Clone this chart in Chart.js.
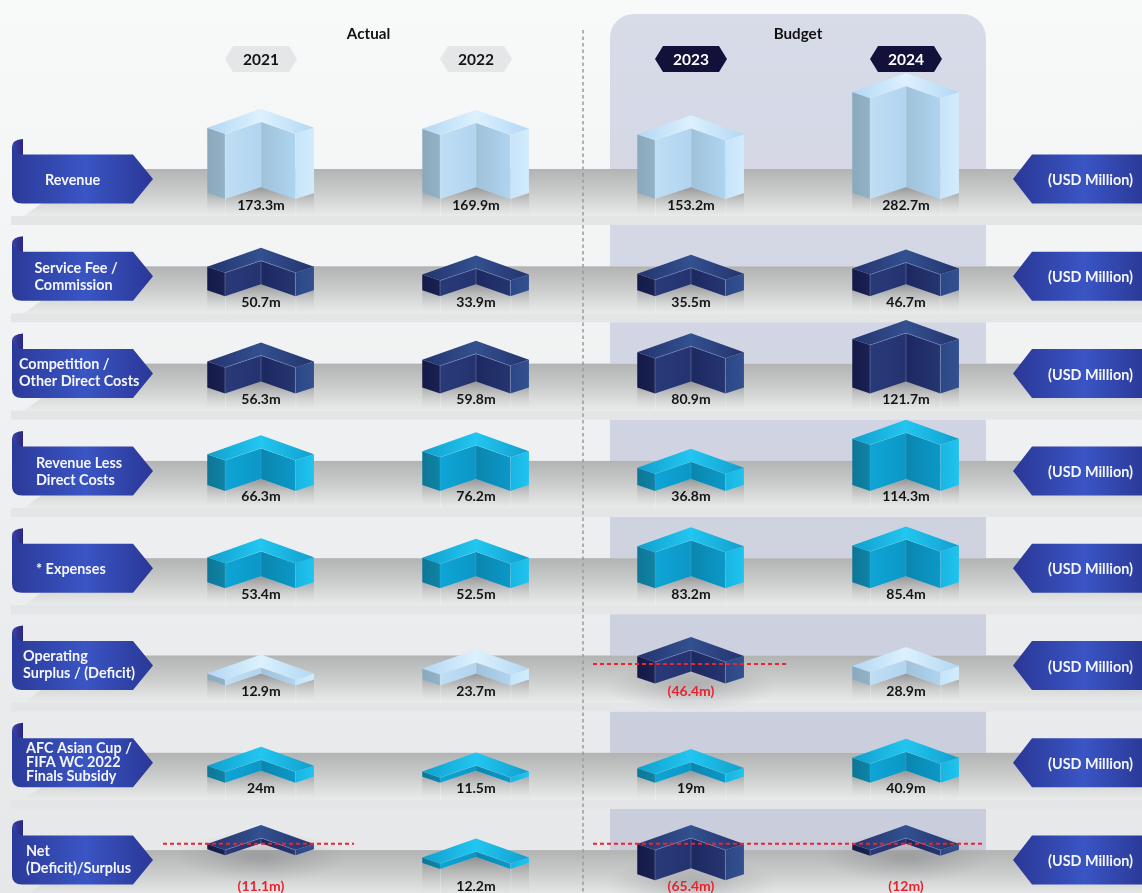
<!DOCTYPE html>
<html><head><meta charset="utf-8">
<script src="https://cdn.jsdelivr.net/npm/chart.js@4"></script>
<style>html,body{margin:0;padding:0;background:#f6f7f7;overflow:hidden}canvas{display:block}</style>
</head><body><canvas id="c" width="1142" height="893"></canvas>
<script>
const years = ['2021','2022','2023','2024'];
const periods = ['Actual','Budget'];
const revenue = [173.3,169.9,153.2,282.7];
const serviceFee = [50.7,33.9,35.5,46.7];
const directCosts = [56.3,59.8,80.9,121.7];
const revenueLessCosts = [66.3,76.2,36.8,114.3];
const expenses = [53.4,52.5,83.2,85.4];
const operatingSurplus = [12.9,23.7,-46.4,28.9];
const afcSubsidy = [24,11.5,19,40.9];
const netSurplus = [-11.1,12.2,-65.4,-12];
const unitLabel = '(USD Million)';
const rowLabels = [['Revenue'],['Service Fee /','Commission'],['Competition /','Other Direct Costs'],['Revenue Less','Direct Costs'],['* Expenses'],['Operating','Surplus / (Deficit)'],['AFC Asian Cup /','FIFA WC 2022','Finals Subsidy'],['Net','(Deficit)/Surplus']];
const rowValues = [revenue,serviceFee,directCosts,revenueLessCosts,expenses,operatingSurplus,afcSubsidy,netSurplus];
const rowThemes = ['ice','navy','navy','cyan','cyan','ice','cyan','cyan'];

const FONT='Lato, sans-serif';
const PAL={
 ice:{base:'#b4d5f0',ol:['#8aa9bd','#93b2c6'],il:['#b2d4f0','#bfdef4'],ir:['#a0c2d9','#aed4f0'],or:['#c6e4f9','#d2ecfc'],top:['#b3d7f5','#dcf1fd'],edge:'rgba(255,255,255,.18)'},
 navy:{base:'#263570',ol:['#141a48','#1a2252'],il:['#243270','#2a3a78'],ir:['#1c2860','#263570'],or:['#2d4785','#325090'],top:['#24346e','#33508f'],edge:'rgba(190,205,240,.35)'},
 cyan:{base:'#0c9fd0',ol:['#0e7695','#0f83a6'],il:['#0c97c6','#0ea5d6'],ir:['#0a86ae','#0c98c8'],or:['#18b5e2','#20c4ee'],top:['#119fce','#22c6f0'],edge:'rgba(255,255,255,.12)'}
};
const PX_PER_UNIT=0.325, ROW_H=97.3, BASE0=199;
const NEG_TOP={5:23.5,7:30};
const POS_LIFT={7:11};
const DASH={5:{dy:21.5,spans:[[593,789]]},7:{dy:36.4,spans:[[163,354],[593,982]]}};

function lg(ctx,x0,y0,x1,y1,stops){const g=ctx.createLinearGradient(x0,y0,x1,y1);stops.forEach(s=>g.addColorStop(s[0],s[1]));return g;}
function poly(ctx,pts,fill){ctx.beginPath();pts.forEach((p,i)=>i?ctx.lineTo(p[0],p[1]):ctx.moveTo(p[0],p[1]));ctx.closePath();ctx.fillStyle=fill;ctx.fill();}
function rowBase(i){return BASE0+ROW_H*i;}

function drawBackdrop(chart){
 const ctx=chart.ctx,W=chart.width,H=chart.height;
 ctx.save();
 ctx.fillStyle=lg(ctx,0,0,0,H,[[0,'#f8f9f9'],[1,'#e6e7e9']]);ctx.fillRect(0,0,W,H);
 for(let i=0;i<8;i++){
  const yB=rowBase(i),top=i===0?14:yB-ROW_H+26,bot=yB-30;
  ctx.fillStyle='rgba(60,70,150,0.17)';
  ctx.beginPath();
  if(i===0)ctx.roundRect(610,top,376,bot-top,[24,24,0,0]);else ctx.rect(610,top,376,bot-top);
  ctx.fill();
 }
 for(let i=0;i<8;i++){
  const yB=rowBase(i),t=yB-30,b=yB+17;
  const g=lg(ctx,0,t,0,b,[[0,'#b2b3b3'],[.5,'#cbcccc'],[1,'#e9eaea']]);
  ctx.fillStyle=g;
  ctx.fillRect(130,t,W-130,b-t);
  poly(ctx,[[24,b],[42,yB+4],[131,yB+4],[131,b]],g);
  ctx.fillStyle='#e4e5e7';ctx.fillRect(11,b,W-11,9);
 }
 ctx.restore();
 drawPills(chart);
}

function drawRibbons(chart){
 const ctx=chart.ctx;
 ctx.save();
 rowLabels.forEach((lines,i)=>{
  const off=ROW_H*i,t=154.5+off,b=203.5+off,m=(t+b)/2;
  ctx.fillStyle=lg(ctx,12,0,23,0,[[0,'#3a46a8'],[1,'#2a2580']]);
  ctx.beginPath();ctx.moveTo(12,t+4);ctx.lineTo(12,t-8);ctx.quadraticCurveTo(12,t-15,23,t-15.5);ctx.lineTo(23,t+1);ctx.closePath();ctx.fill();
  ctx.fillStyle=lg(ctx,12,0,153,0,[[0,'#2b3a99'],[.52,'#3a55c4'],[1,'#2a3796']]);
  ctx.beginPath();ctx.moveTo(12,t-9);ctx.quadraticCurveTo(14,t-1,23,t);ctx.lineTo(133,t);ctx.lineTo(153,m);ctx.lineTo(133,b);ctx.lineTo(22,b);ctx.quadraticCurveTo(12,b,12,b-9);ctx.closePath();ctx.fill();
  ctx.fillStyle=lg(ctx,1013,0,1142,0,[[0,'#2a3796'],[.55,'#3a55c4'],[1,'#2b3a99']]);
  ctx.beginPath();ctx.moveTo(1142,t);ctx.lineTo(1032,t);ctx.lineTo(1013,m);ctx.lineTo(1032,b);ctx.lineTo(1142,b);ctx.closePath();ctx.fill();
 });
 ctx.restore();
}

function drawLabels(chart){
 const ctx=chart.ctx;
 const leftX=[45,34.5,19,36,36,23,26,26];
 ctx.save();
 ctx.textBaseline='middle';ctx.textAlign='left';ctx.fillStyle='#f4f6fc';
 ctx.font='bold 14.4px '+FONT;
 rowLabels.forEach((lines,i)=>{
  const m=180+ROW_H*i-(i>1&&i!==3&&i!==4?1.5:0),lh=lines.length>2?14:17;
  lines.forEach((s,k)=>ctx.fillText(s,leftX[i],m+(k-(lines.length-1)/2)*lh));
  ctx.fillText(unitLabel,1048,180.5+ROW_H*i);
 });
 ctx.textAlign='center';ctx.fillStyle='#111';ctx.font='bold 15.2px '+FONT;
 ctx.fillText(periods[0],368.5,34);ctx.fillText(periods[1],798,34);
 ctx.restore();
}

function drawPills(chart){
 const ctx=chart.ctx,xs=chart.scales.x;
 years.forEach((y,i)=>{
  const cx=xs.getPixelForTick(i),t=46,b=72,hw=36;
  poly(ctx,[[cx-hw,59],[cx-hw+8,t],[cx+hw-8,t],[cx+hw,59],[cx+hw-8,b],[cx-hw+8,b]],i<2?'#e4e6e8':'#11113a');
 });
}

function drawDivider(chart){
 const ctx=chart.ctx;ctx.save();ctx.strokeStyle='#999a9c';ctx.lineWidth=1.5;ctx.setLineDash([3.5,3]);
 ctx.beginPath();ctx.moveTo(583,30);ctx.lineTo(583,893);ctx.stroke();ctx.restore();
}

function drawBox(ctx,el,row,v){
 const cx=el.x,hw=el.width/2,neg=v<0;
 const yB=rowBase(row);
 const h=Math.abs(el.y-el.base)+Math.min(9,Math.abs(v)*.14);
 const bot=neg?yB-NEG_TOP[row]+h:yB-(POS_LIFT[row]&&v<20?POS_LIFT[row]:0), top=bot-h;
 const x=[cx-hw,cx-hw*.67,cx,cx+hw*.64,cx+hw*.985];
 const p=neg?PAL.navy:PAL[rowThemes[row]];
 const stripeTop=yB+17;
 if(!neg){
  const g=lg(ctx,0,bot-12,0,stripeTop,[[0,'rgba(110,110,112,.55)'],[1,'rgba(235,236,236,.15)']]);
  poly(ctx,[[x[0],bot-6],[x[1],bot],[x[2],bot-12],[x[3],bot],[x[4],bot-6],[x[4],stripeTop],[x[0],stripeTop]],g);
  ctx.fillStyle='rgba(255,255,255,.25)';
  ctx.fillRect(x[1],bot,1,stripeTop-bot);ctx.fillRect(x[3],bot,1,stripeTop-bot);
 }else{
  ctx.save();ctx.translate(cx,bot+2);ctx.scale(1,.3);
  const r=ctx.createRadialGradient(0,0,10,0,0,85);r.addColorStop(0,'rgba(100,100,105,.3)');r.addColorStop(1,'rgba(120,120,125,0)');
  ctx.fillStyle=r;ctx.beginPath();ctx.arc(0,0,85,0,Math.PI*2);ctx.fill();ctx.restore();
 }
 poly(ctx,[[x[0],top-6],[x[1],top],[x[1],bot],[x[0],bot-6]],lg(ctx,x[0],0,x[1],0,[[0,p.ol[0]],[1,p.ol[1]]]));
 poly(ctx,[[x[1],top],[x[2],top-12],[x[2],bot-12],[x[1],bot]],lg(ctx,x[1],0,x[2],0,[[0,p.il[1]],[1,p.il[0]]]));
 poly(ctx,[[x[2],top-12],[x[3],top],[x[3],bot],[x[2],bot-12]],lg(ctx,x[2],0,x[3],0,[[0,p.ir[0]],[1,p.ir[1]]]));
 poly(ctx,[[x[3],top],[x[4],top-6],[x[4],bot-6],[x[3],bot]],lg(ctx,x[3],0,x[4],0,[[0,p.or[0]],[1,p.or[1]]]));
 poly(ctx,[[x[0],top-6],[x[2],top-25],[x[4],top-6],[x[3],top],[x[2],top-12],[x[1],top]],lg(ctx,x[0],0,x[4],0,[[0,p.top[0]],[.5,p.top[1]],[1,p.top[0]]]));
 ctx.save();ctx.strokeStyle=p.edge;ctx.lineWidth=.8;ctx.beginPath();
 ctx.moveTo(x[1],top);ctx.lineTo(x[1],bot);ctx.moveTo(x[2],top-12);ctx.lineTo(x[2],bot-12);ctx.moveTo(x[3],top);ctx.lineTo(x[3],bot);
 ctx.moveTo(x[1],top);ctx.lineTo(x[2],top-12);ctx.lineTo(x[3],top);ctx.stroke();ctx.restore();
}

const fmt=v=>v<0?`(${Math.abs(v)}m)`:`${v}m`;
const boxPlugin={
 id:'box3d',
 beforeDraw(chart){drawBackdrop(chart);},
 beforeDatasetDraw(chart,args){
  const ctx=chart.ctx,row=args.index;
  args.meta.data.forEach((el,j)=>drawBox(ctx,el,row,rowValues[row][j]));
  return false;
 },
 afterDatasetsDraw(chart){
  const ctx=chart.ctx;
  drawDivider(chart);
  ctx.save();ctx.strokeStyle='#ee2230';ctx.lineWidth=2;ctx.setLineDash([4,3]);
  Object.keys(DASH).forEach(k=>{const d=DASH[k],y=rowBase(+k)-d.dy;d.spans.forEach(s=>{ctx.beginPath();ctx.moveTo(s[0],y);ctx.lineTo(s[1],y);ctx.stroke();});});
  ctx.restore();
  drawRibbons(chart);
  drawLabels(chart);
  ctx.save();ctx.textAlign='center';ctx.textBaseline='middle';ctx.font='bold 14px '+FONT;
  rowValues.forEach((vals,row)=>{
   const meta=chart.getDatasetMeta(row);
   vals.forEach((v,j)=>{ctx.fillStyle=v<0?'#e8242f':'#141414';ctx.fillText(fmt(v),meta.data[j].x,rowBase(row)+6);});
  });
  ctx.restore();
 }
};

const scales={
 x:{type:'category',position:'top',offset:true,labels:years,
  grid:{display:false},border:{display:false},
  ticks:{color:c=>c.index<2?'#141414':'#ffffff',font:{family:FONT,weight:'bold',size:15.5},padding:24,maxRotation:0,autoSkip:false},
  afterFit(s){s.height=BASE0-ROW_H;}}
};
rowValues.forEach((_,i)=>{scales['y'+i]={type:'linear',display:false,stack:'rows',stackWeight:1,weight:-i,min:0,max:ROW_H/PX_PER_UNIT,position:'left'};});

new Chart(document.getElementById('c'),{
 type:'bar',
 data:{labels:years,datasets:rowValues.map((vals,i)=>({label:rowLabels[i].join(' '),data:vals,yAxisID:'y'+i,xAxisID:'x',grouped:false,barPercentage:.5,categoryPercentage:1,backgroundColor:PAL[rowThemes[i]].base}))},
 options:{responsive:false,animation:false,devicePixelRatio:1,
  layout:{padding:{left:153.5,right:128.5,top:0,bottom:893-(BASE0+ROW_H*7)}},
  plugins:{legend:{display:false},tooltip:{enabled:false}},
  scales},
 plugins:[boxPlugin]
});
</script></body></html>
